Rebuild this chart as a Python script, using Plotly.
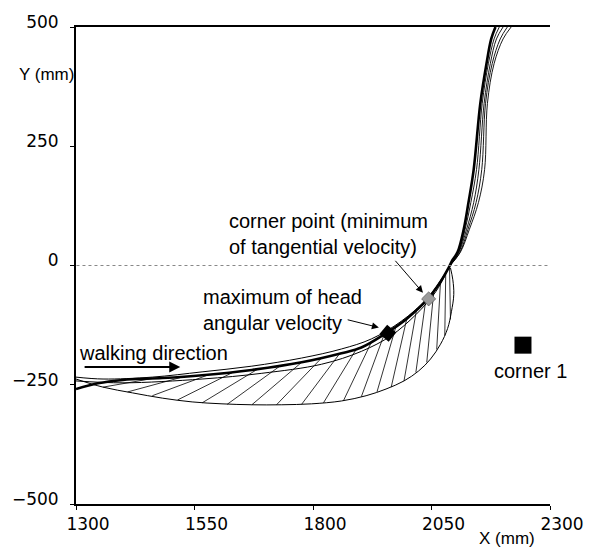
import plotly.graph_objects as go

# ---- data (mm) ----
traj_x = [1300, 1346, 1399, 1482, 1566, 1671, 1776, 1860, 1902, 1954, 1996, 2042, 2069, 2086, 2094, 2105, 2118, 2128, 2139, 2153, 2166, 2176, 2185]
traj_y = [-259, -247, -240, -236, -230, -219, -203, -184, -172, -142, -113, -70, -34, -5, 11, 28, 76, 132, 201, 340, 423, 475, 500]

thinA_x = [1300, 1357, 1461, 1566, 1671, 1776, 1860, 1923, 1986, 2042, 2086]
thinA_y = [-234, -238, -234, -223, -211, -194, -175, -154, -117, -68, -5]
thinB_x = [1300, 1399, 1566, 1692, 1818, 1902, 1965, 2017, 2059, 2086]
thinB_y = [-242, -246, -238, -226, -207, -180, -147, -103, -55, -5]

env_x = [1300, 1357, 1419, 1482, 1545, 1608, 1671, 1734, 1797, 1860, 1912, 1954, 1992, 2023, 2048, 2069, 2084, 2092, 2097, 2095, 2090]
env_y = [-238, -255, -267, -278, -286, -290, -292, -292, -290, -284, -273, -259, -242, -221, -196, -165, -132, -97, -61, -30, -5]

fan_y = [1, 28, 76, 132, 201, 340, 423, 475, 500]
fan1_x = [2090, 2107, 2121, 2133, 2145, 2157, 2170, 2182, 2193]
fan2_x = [2090, 2108, 2124, 2139, 2150, 2161, 2174, 2187, 2201]
fan3_x = [2090, 2110, 2127, 2144, 2156, 2164, 2178, 2195, 2210]
fan4_x = [2090, 2111, 2130, 2149, 2162, 2168, 2182, 2201, 2218]

hatch_x0 = [1357, 1409, 1461, 1514, 1566, 1619, 1671, 1723, 1776, 1822, 1864, 1902, 1935, 1965, 1992, 2017, 2040, 2061, 2078, 2090]
hatch_y0 = [-255, -265, -273, -282, -288, -291, -292, -292, -291, -288, -284, -275, -265, -255, -242, -224, -203, -176, -147, -113]
hatch_x1 = [1461, 1520, 1577, 1629, 1682, 1730, 1776, 1818, 1856, 1891, 1923, 1950, 1975, 1998, 2019, 2038, 2055, 2069, 2080, 2088]
hatch_y1 = [-237, -235, -230, -225, -218, -211, -203, -194, -185, -176, -161, -145, -128, -111, -90, -72, -53, -34, -18, -3]

head_max = (1958, -142)
corner_pt = (2044, -70)
corner1 = (2243, -167)

x_ticks = [1300, 1550, 1800, 2050, 2300]
y_ticks = [-500, -250, 0, 250, 500]

fig = go.Figure()

hx, hy = [], []
for a, b, c, d in zip(hatch_x0, hatch_y0, hatch_x1, hatch_y1):
    hx += [a, c, None]
    hy += [b, d, None]
fig.add_trace(go.Scatter(x=hx, y=hy, mode="lines", line=dict(color="black", width=0.8), hoverinfo="skip"))
fig.add_trace(go.Scatter(x=env_x, y=env_y, mode="lines", line=dict(color="black", width=1, shape="spline"), hoverinfo="skip"))
for fx in [fan1_x, fan2_x, fan3_x, fan4_x]:
    fig.add_trace(go.Scatter(x=fx, y=fan_y, mode="lines", line=dict(color="black", width=0.9, shape="spline"), hoverinfo="skip"))
fig.add_trace(go.Scatter(x=thinA_x, y=thinA_y, mode="lines", line=dict(color="black", width=1, shape="spline"), hoverinfo="skip"))
fig.add_trace(go.Scatter(x=thinB_x, y=thinB_y, mode="lines", line=dict(color="black", width=1, shape="spline"), hoverinfo="skip"))
fig.add_trace(go.Scatter(x=traj_x, y=traj_y, mode="lines", line=dict(color="black", width=2.6, shape="spline"), hoverinfo="skip"))

fig.add_trace(go.Scatter(x=[head_max[0]], y=[head_max[1]], mode="markers",
                         marker=dict(symbol="square", size=12, angle=40, color="black"), hoverinfo="skip"))
fig.add_trace(go.Scatter(x=[corner_pt[0]], y=[corner_pt[1]], mode="markers",
                         marker=dict(symbol="square", size=10, angle=45, color="#9a9a9a",
                                     line=dict(color="#444", width=0.6)), hoverinfo="skip"))
fig.add_trace(go.Scatter(x=[corner1[0]], y=[corner1[1]], mode="markers",
                         marker=dict(symbol="square", size=17, color="black"), hoverinfo="skip"))

fig.add_shape(type="line", x0=1301, x1=2300, y0=0, y1=0, xref="x", yref="y",
              line=dict(color="#888", width=1, dash="dot"))

tf = dict(family="Liberation Sans, Arial, sans-serif", size=20, color="black")
fig.add_annotation(x=1619, y=67, text="corner point (minimum<br>of tangential velocity)", showarrow=False,
                   xanchor="left", yanchor="middle", align="left", font=tf)
fig.add_annotation(x=1564, y=-94, text="maximum of head<br>angular velocity", showarrow=False,
                   xanchor="left", yanchor="middle", align="left", font=tf)
fig.add_annotation(x=1302, y=-184, text="walking direction", showarrow=False,
                   xanchor="left", yanchor="middle", font=tf)
fig.add_annotation(x=2258, y=-221, text="corner 1", showarrow=False,
                   xanchor="center", yanchor="middle", font=tf)

# arrows
for (tx, ty, hx_, hy_, w) in [(1971, 13, 2032, -57, 1), (1870, -113, 1939, -130, 1), (1315, -213, 1520, -213, 2)]:
    fig.add_annotation(x=hx_, y=hy_, ax=tx, ay=ty, axref="x", ayref="y", xref="x", yref="y",
                       text="", showarrow=True, arrowhead=2, arrowsize=1.4 if w == 1 else 1.1,
                       arrowwidth=w, arrowcolor="black")

lf = dict(family="Liberation Sans, Arial, sans-serif", size=17, color="black")
fig.add_annotation(xref="paper", x=0, xanchor="right", y=400, yref="y", yanchor="middle",
                   text="Y (mm)", showarrow=False, font=lf)
fig.add_annotation(xref="x", x=2210, y=-0.072, yref="paper", yanchor="middle",
                   text="X (mm)", showarrow=False, font=lf)

tk = dict(family="DejaVu Sans, sans-serif", size=17, color="black")
fig.update_xaxes(range=[1300, 2300], tickvals=x_ticks, showline=True, linecolor="black", linewidth=2,
                 mirror=True, ticks="outside", ticklen=4, tickcolor="black", showgrid=False, zeroline=False,
                 tickfont=tk, ticklabelshift=12)
fig.update_yaxes(range=[-500, 500], tickvals=y_ticks, showline=True, linecolor="black", linewidth=2,
                 ticks="outside", ticklen=4, tickcolor="black", showgrid=False, zeroline=False,
                 tickfont=tk, ticklabelshift=-5, ticklabelstandoff=8)

fig.update_layout(width=600, height=550, margin=dict(l=73, r=50, t=23, b=46),
                  plot_bgcolor="white", paper_bgcolor="white", showlegend=False)

fig.write_html("out.html")
